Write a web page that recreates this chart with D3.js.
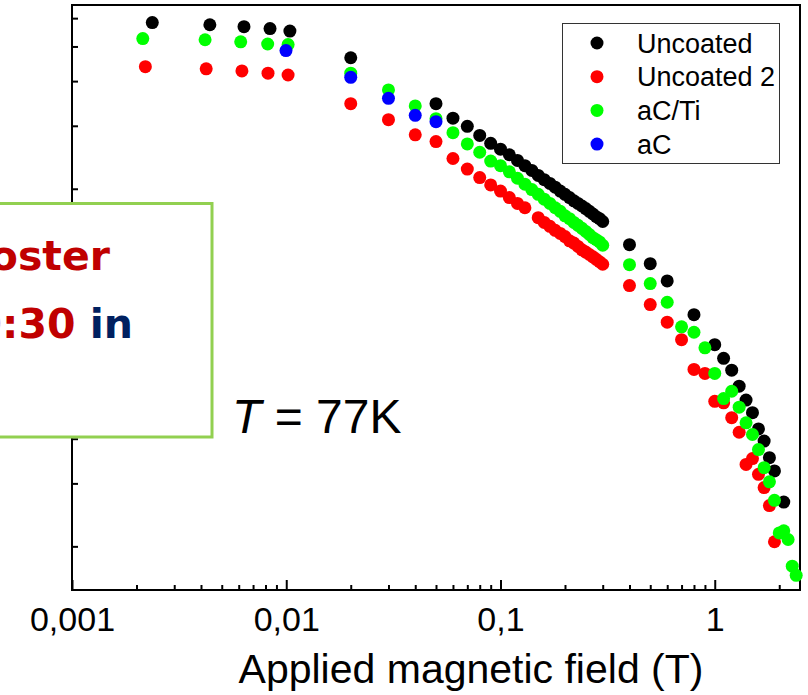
<!DOCTYPE html>
<html>
  <head>
    <title>Field dependence</title>
    <script src="https://d3js.org/d3.v7.min.js"></script>
    <style>
      body { margin: 0; background: #fff; }
      text { font-family: "Liberation Sans", Arial, sans-serif; }
    </style>
  </head>
  <body>
    <svg width="808" height="695"></svg>
    <script>
      // values (x: applied field in T, y: arbitrary log units)
      const seriesNames = ["Uncoated", "Uncoated 2", "aC/Ti", "aC"];
      const seriesColors = ["#000000", "#ff0000", "#00ff00", "#0000ff"];

      const fieldUncoated = [0.00237, 0.0044, 0.00635, 0.0084, 0.0104, 0.02, 0.05, 0.06, 0.07, 0.08, 0.09,
        0.10, 0.11, 0.12, 0.13, 0.14, 0.15, 0.16, 0.17, 0.18, 0.19, 0.20, 0.21, 0.22, 0.23, 0.24, 0.25,
        0.26, 0.27, 0.28, 0.29, 0.30, 0.4, 0.5, 0.6, 0.8, 1.0, 1.1, 1.2, 1.3, 1.4, 1.5, 1.6, 1.7, 1.8, 1.9, 2.1];
      const valUncoated = [5.83, 5.75, 5.68, 5.61, 5.52, 4.65, 3.46, 3.15, 2.99, 2.82, 2.68,
        2.58, 2.49, 2.40, 2.32, 2.25, 2.18, 2.12, 2.07, 2.02, 1.97, 1.93, 1.89, 1.85, 1.82, 1.79, 1.76,
        1.73, 1.70, 1.67, 1.65, 1.62, 1.395, 1.235, 1.105, 0.889, 0.733, 0.671, 0.622, 0.561, 0.513, 0.473,
        0.426, 0.394, 0.354, 0.325, 0.266];

      const fieldUncoated2 = [0.0022, 0.00423, 0.00621, 0.00822, 0.0102, 0.02, 0.03, 0.04, 0.05, 0.06, 0.07,
        0.08, 0.09, 0.10, 0.11, 0.12, 0.13, 0.15, 0.16, 0.17, 0.18, 0.19, 0.20, 0.21, 0.22, 0.23, 0.24,
        0.25, 0.26, 0.27, 0.28, 0.29, 0.30, 0.4, 0.5, 0.6, 0.7, 0.8, 0.9, 1.0, 1.1, 1.2, 1.3, 1.4, 1.5,
        1.6, 1.7, 1.8, 1.9];
      const valUncoated2 = [4.39, 4.33, 4.27, 4.21, 4.16, 3.46, 3.12, 2.83, 2.71, 2.43, 2.27,
        2.15, 2.05, 1.97, 1.89, 1.82, 1.77, 1.66, 1.61, 1.57, 1.53, 1.50, 1.47, 1.43, 1.41, 1.38, 1.35,
        1.33, 1.31, 1.29, 1.27, 1.25, 1.23, 1.072, 0.949, 0.847, 0.757, 0.625, 0.609, 0.509, 0.504, 0.458,
        0.417, 0.339, 0.352, 0.318, 0.292, 0.260, 0.206];

      const fieldACTi = [0.00214, 0.00418, 0.00613, 0.00819, 0.0102, 0.02, 0.03, 0.04, 0.05, 0.06, 0.07,
        0.08, 0.09, 0.10, 0.11, 0.12, 0.13, 0.14, 0.15, 0.16, 0.17, 0.18, 0.19, 0.20, 0.21, 0.22, 0.23,
        0.24, 0.25, 0.26, 0.27, 0.28, 0.29, 0.30, 0.4, 0.5, 0.6, 0.7, 0.8, 0.9, 1.0, 1.1, 1.2, 1.3, 1.4,
        1.5, 1.6, 1.7, 1.8, 1.9, 2.0, 2.1, 2.2, 2.3, 2.4];
      const valACTi = [5.26, 5.22, 5.15, 5.08, 5.06, 4.21, 3.78, 3.41, 3.14, 2.87, 2.67,
        2.53, 2.39, 2.32, 2.23, 2.14, 2.06, 1.99, 1.93, 1.87, 1.82, 1.77, 1.73, 1.68, 1.65, 1.61, 1.58,
        1.55, 1.52, 1.49, 1.46, 1.44, 1.42, 1.39, 1.227, 1.086, 0.963, 0.822, 0.794, 0.718, 0.609, 0.518,
        0.543, 0.49, 0.443, 0.411, 0.373, 0.332, 0.303, 0.269, 0.218, 0.221, 0.209, 0.176, 0.166];

      const fieldAC = [0.00997, 0.02, 0.03, 0.04, 0.05];
      const valAC = [4.87, 4.10, 3.58, 3.21, 3.08];

      const xMajorTicks = [0.001, 0.01, 0.1, 1];
      const xMinorTicks = [0.002, 0.003, 0.004, 0.005, 0.006, 0.007, 0.008, 0.009,
        0.02, 0.03, 0.04, 0.05, 0.06, 0.07, 0.08, 0.09,
        0.2, 0.3, 0.4, 0.5, 0.6, 0.7, 0.8, 0.9, 2];
      const yTicks = [0.2, 0.3, 0.4, 0.5, 0.6, 0.7, 0.8, 0.9, 1, 2, 3, 4, 5, 6];

      const svg = d3.select("svg");
      const plot = {left: 72, right: 800, top: 5, bottom: 590};

      const xScale = d3.scaleLog()
        .domain([0.001, 2.5])
        .range([plot.left, plot.right]);
      const yScale = d3.scaleLog()
        .domain([0.151, 6.53])
        .range([plot.bottom, plot.top]);

      svg.append("rect")
        .attr("width", 808).attr("height", 695).attr("fill", "#fff");

      // minor x ticks
      const xMinor = svg.append("g")
        .attr("transform", `translate(0,${plot.bottom})`)
        .call(d3.axisBottom(xScale).tickValues(xMinorTicks).tickSizeInner(-5).tickSizeOuter(0).tickFormat(""));
      xMinor.select(".domain").remove();

      // major x ticks with labels
      const xMajor = svg.append("g")
        .attr("transform", `translate(0,${plot.bottom})`)
        .call(d3.axisBottom(xScale).tickValues(xMajorTicks).tickSizeInner(-10).tickSizeOuter(0)
          .tickPadding(17).tickFormat(d => String(d).replace(".", ",")));
      xMajor.select(".domain").remove();
      xMajor.selectAll("text")
        .attr("font-size", 34).attr("fill", "#000")
        .style("font-family", '"Liberation Sans", Arial, sans-serif');

      const yAxis = svg.append("g")
        .attr("transform", `translate(${plot.left},0)`)
        .call(d3.axisRight(yScale).tickValues(yTicks).tickSizeInner(6).tickSizeOuter(0).tickFormat(""));
      yAxis.select(".domain").remove();

      svg.selectAll(".tick line").attr("stroke", "#000").attr("stroke-width", 2);

      // frame
      svg.append("rect")
        .attr("x", plot.left).attr("y", plot.top)
        .attr("width", plot.right - plot.left).attr("height", plot.bottom - plot.top)
        .attr("fill", "none").attr("stroke", "#000").attr("stroke-width", 2);

      const series = [
        {x: fieldUncoated, y: valUncoated},
        {x: fieldUncoated2, y: valUncoated2},
        {x: fieldACTi, y: valACTi},
        {x: fieldAC, y: valAC}
      ];

      series.forEach((s, i) => {
        const pts = s.x.map((x, j) => ({x: x, y: s.y[j]}));
        svg.append("g").selectAll("circle").data(pts).enter().append("circle")
          .attr("cx", d => xScale(d.x))
          .attr("cy", d => yScale(d.y))
          .attr("r", 6.5)
          .attr("fill", seriesColors[i]);
      });

      // legend
      const legend = svg.append("g");
      legend.append("rect")
        .attr("x", 562.5).attr("y", 23.5).attr("width", 217).attr("height", 140)
        .attr("fill", "#fff").attr("stroke", "#333").attr("stroke-width", 1);
      seriesNames.forEach((name, i) => {
        legend.append("circle")
          .attr("cx", 597).attr("cy", 43 + i * 33.7).attr("r", 6.5)
          .attr("fill", seriesColors[i]);
        legend.append("text")
          .attr("x", 637).attr("y", 52.7 + i * 33.7)
          .attr("font-size", 27).attr("fill", "#000")
          .text(name);
      });

      svg.append("text")
        .attr("x", 471).attr("y", 683)
        .attr("text-anchor", "middle")
        .attr("font-size", 41).attr("fill", "#000")
        .text("Applied magnetic field (T)");

      const tLabel = svg.append("text")
        .attr("x", 232).attr("y", 433)
        .attr("font-size", 48).attr("fill", "#000");
      tLabel.append("tspan").attr("font-style", "italic").text("T");
      tLabel.append("tspan").text(" = 77K");

      // overlay note box (cut off by the slide edge, as in the source slide)
      svg.append("rect")
        .attr("x", -20).attr("y", 203.5).attr("width", 232).attr("height", 233.5)
        .attr("fill", "#fff").attr("stroke", "#92d050").attr("stroke-width", 3);

      const noteFont = "'DejaVu Sans', sans-serif";
      const note1 = svg.append("text")
        .attr("x", 110).attr("y", 270)
        .attr("text-anchor", "end")
        .attr("font-size", 41).attr("font-weight", "bold")
        .style("font-family", noteFont);
      note1.append("tspan").attr("fill", "#c00000").text("Poster");

      const note2 = svg.append("text")
        .attr("x", 133).attr("y", 338)
        .attr("text-anchor", "end")
        .attr("font-size", 41).attr("font-weight", "bold")
        .style("font-family", noteFont);
      note2.append("tspan").attr("fill", "#c00000").text("10:30 ");
      note2.append("tspan").attr("fill", "#002060").text("in");
    </script>
  </body>
</html>
